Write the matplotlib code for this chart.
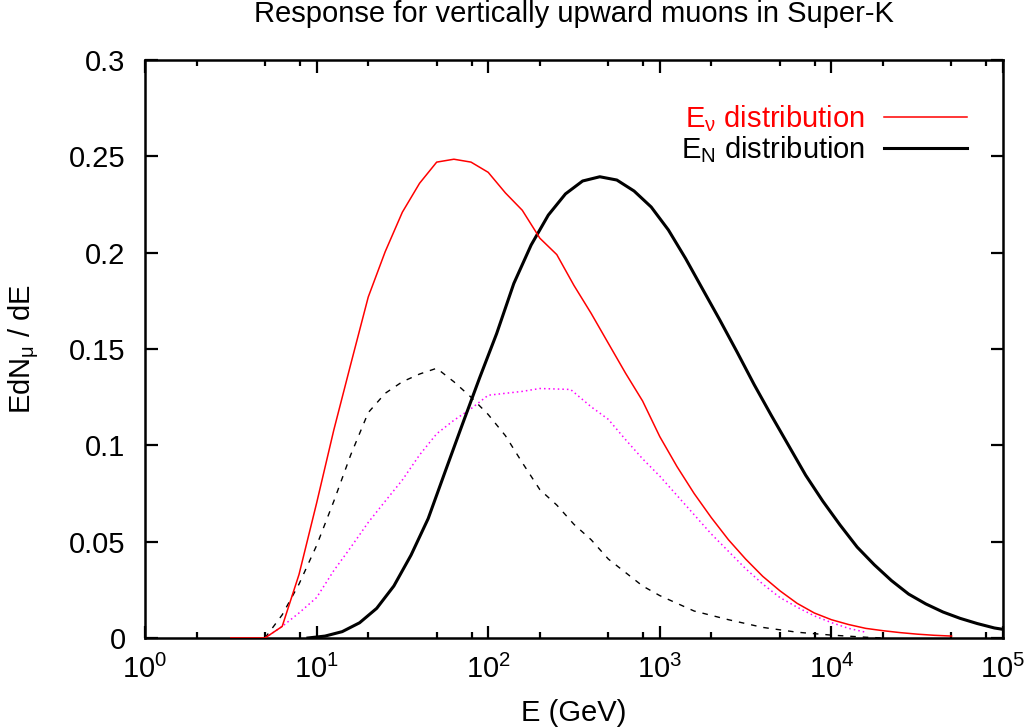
import numpy as np
import matplotlib
matplotlib.use("Agg")
import matplotlib.pyplot as plt
from matplotlib.ticker import LogLocator, FixedLocator, NullFormatter, LogFormatterMathtext

plt.rcParams['font.family'] = ['Liberation Sans', 'DejaVu Sans']
plt.rcParams['mathtext.fontset'] = 'custom'
plt.rcParams['mathtext.rm'] = 'Liberation Sans'
plt.rcParams['mathtext.it'] = 'Liberation Sans:italic'
plt.rcParams['mathtext.default'] = 'regular'

# E_nu distribution (red)
e_nu = [3.16, 5.0, 6.3, 7.9, 10, 12.6, 15.8, 20, 25.1, 31.6, 39.8, 50.1, 63.1, 79.4,
        100, 126, 158, 200, 251, 316, 398, 501, 631, 794, 1000, 1259, 1585, 1995,
        2512, 3162, 3981, 5012, 6310, 7943, 10000, 12589, 15849, 19953, 25119,
        31623, 39811, 50119]
f_nu = [0, 0, 0.006, 0.033, 0.070, 0.108, 0.142, 0.177, 0.2005, 0.221, 0.236, 0.247,
        0.2485, 0.247, 0.2417, 0.231, 0.222, 0.2075, 0.199, 0.183, 0.1685, 0.153,
        0.1375, 0.123, 0.1045, 0.089, 0.075, 0.0625, 0.051, 0.041, 0.032, 0.0245,
        0.018, 0.013, 0.0095, 0.007, 0.005, 0.0038, 0.0028, 0.002, 0.0014, 0.001]

# E_N distribution (thick black)
e_n = [8.9, 11.2, 14.1, 17.8, 22.4, 28.2, 35.5, 44.7, 56.2, 70.8, 89.1, 112, 141, 178,
       224, 282, 355, 447, 562, 708, 891, 1122, 1413, 1778, 2239, 2818, 3548, 4467,
       5623, 7079, 8913, 11220, 14125, 17783, 22387, 28184, 35481, 44668, 56234,
       70795, 89125, 100000]
f_n = [0, 0.001, 0.0033, 0.0079, 0.0154, 0.027, 0.043, 0.062, 0.0865, 0.111, 0.135,
       0.158, 0.184, 0.204, 0.2195, 0.2305, 0.2372, 0.2394, 0.2377, 0.232, 0.2237,
       0.2118, 0.197, 0.181, 0.165, 0.1485, 0.1315, 0.1155, 0.100, 0.0845, 0.071,
       0.0587, 0.0472, 0.038, 0.0298, 0.0228, 0.0177, 0.0135, 0.0102, 0.0075,
       0.0052, 0.0045]

# dashed black
e_d = [5.0, 6.3, 7.9, 10, 12.6, 15.8, 20, 25.1, 31.6, 39.8, 50.1, 63.1, 79.4, 100,
       126, 158, 200, 251, 316, 398, 501, 631, 794, 1000, 1585, 2512, 3981, 6310,
       10000, 15849, 19953]
f_d = [0, 0.012, 0.028, 0.048, 0.071, 0.095, 0.117, 0.127, 0.133, 0.137, 0.140,
       0.133, 0.125, 0.116, 0.105, 0.091, 0.077, 0.069, 0.059, 0.051, 0.041, 0.034,
       0.027, 0.022, 0.014, 0.0095, 0.0055, 0.003, 0.0015, 0.0004, 0]

# dotted magenta
e_m = [5.0, 6.3, 7.9, 10, 12.6, 15.8, 20, 25.1, 31.6, 39.8, 50.1, 63.1, 79.4, 100,
       126, 158, 200, 302, 398, 501, 631, 794, 1000, 1259, 1585, 1995, 2512, 3162,
       3981, 5012, 6310, 7943, 10000, 12589, 15849]
f_m = [0, 0.006, 0.013, 0.021, 0.035, 0.047, 0.060, 0.071, 0.082, 0.095, 0.106,
       0.113, 0.119, 0.126, 0.127, 0.128, 0.1295, 0.129, 0.120, 0.1135, 0.103,
       0.093, 0.084, 0.074, 0.064, 0.054, 0.045, 0.036, 0.028, 0.021, 0.016,
       0.0115, 0.008, 0.005, 0.003]

fs = 21

fig = plt.figure(figsize=(10.30, 7.27), dpi=100)
ax = fig.add_axes([145/1030, 89/727, 858/1030, 578/727])

ax.plot(e_nu, f_nu, color='red', lw=1.1, label=r'E$_{\nu}$ distribution', zorder=4)
ax.plot(e_n, f_n, color='black', lw=2.2, label=r'E$_{N}$ distribution', zorder=3)
ax.plot(e_d, f_d, color='black', lw=1.0, ls=(0, (4, 5)), zorder=2)
ax.plot(e_m, f_m, color='magenta', lw=1.1, ls=(0, (1, 2)), zorder=2)

ax.set_xscale('log')
ax.set_xlim(1, 1e5)
ax.set_ylim(0, 0.3)
ax.xaxis.set_major_locator(LogLocator(base=10, numticks=10))
ax.xaxis.set_major_formatter(LogFormatterMathtext())
minors = [m * 10**k for k in range(5) for m in (2, 5, 8)]
ax.xaxis.set_minor_locator(FixedLocator(minors))
ax.xaxis.set_minor_formatter(NullFormatter())
ax.set_yticks([0, 0.05, 0.1, 0.15, 0.2, 0.25, 0.3])
ax.set_yticklabels(['0', '0.05', '0.1', '0.15', '0.2', '0.25', '0.3'])

ax.tick_params(which='both', direction='in', top=True, right=True, width=1.6,
               labelsize=fs)
ax.tick_params(axis='x', pad=12)
ax.tick_params(axis='y', pad=14)
ax.tick_params(which='major', length=9)
ax.tick_params(which='minor', length=4.5)
for s in ax.spines.values():
    s.set_linewidth(1.8)

ax.set_title('Response for vertically upward muons in Super-K', fontsize=fs, pad=27)
ax.set_xlabel('E (GeV)', fontsize=fs, labelpad=11)
ax.set_ylabel(r'EdN$_{\mu}$ / dE', fontsize=fs, labelpad=20)

leg = ax.legend(loc='upper right', bbox_to_anchor=(0.9717, 0.945), frameon=False,
                markerfirst=False, handlelength=2.85, handletextpad=0.65,
                fontsize=fs, labelspacing=0.0, borderaxespad=0)
for t, c in zip(leg.get_texts(), ['red', 'black']):
    t.set_color(c)

fig.savefig('out.png', dpi=100)
